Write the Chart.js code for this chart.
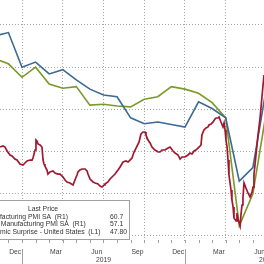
<!DOCTYPE html>
<html>
<head>
<meta charset="utf-8">
<script src="https://cdn.jsdelivr.net/npm/chart.js@4.4.1/dist/chart.umd.min.js"></script>
<style>
  html, body { margin: 0; padding: 0; background: #fff; overflow: hidden; }
  #wrap { width: 264px; height: 264px; }
</style>
</head>
<body>
<div id="wrap"><canvas id="chart" width="264" height="264"></canvas></div>
<script>
// monthly PMI readings (plotted at the end of each month)
const pmiMonths = ['2018-10','2018-11','2018-12','2019-01','2019-02','2019-03','2019-04','2019-05','2019-06','2019-07',
                   '2019-08','2019-09','2019-10','2019-11','2019-12','2020-01','2020-02','2020-03','2020-04','2020-05','2020-06'];
const ismPmi    = [58.7, 59.1, 55.0, 55.6, 54.2, 54.7, 53.5, 52.4, 51.7, 51.5, 49.0, 48.3, 48.5, 48.2, 47.9, 50.9, 50.1, 49.0, 41.5, 43.1, 52.6];
const markitPmi = [56.0, 55.4, 53.8, 55.0, 53.0, 52.5, 52.7, 50.5, 50.6, 50.4, 50.3, 51.2, 51.5, 52.7, 52.4, 51.9, 50.8, 49.0, 36.2, 40.0, 49.8];

// economic surprise index, time in months since Jan 2019
const surpriseT = [-1.62,-1.40,-1.25,-1.10,-0.88,-0.74,-0.52,-0.37,-0.15,0.07,
  0.22,0.37,0.59,0.74,0.81,0.96,1.03,1.10,1.18,1.33,
  1.47,1.55,1.62,1.69,1.84,1.91,2.06,2.28,2.43,2.65,
  2.80,3.02,3.17,3.31,3.53,3.76,3.90,4.05,4.12,4.27,
  4.42,4.64,4.79,4.86,5.01,5.23,5.38,5.60,5.74,5.89,
  6.04,6.11,6.33,6.48,6.63,6.85,7.07,7.22,7.44,7.66,
  7.81,7.95,8.10,8.25,8.47,8.62,8.76,8.91,9.06,9.13,
  9.28,9.43,9.57,9.79,10.02,10.16,10.31,10.53,10.75,10.90,
  11.12,11.27,11.49,11.64,11.78,12.00,12.22,12.37,12.52,12.67,
  12.81,13.03,13.18,13.25,13.40,13.55,13.70,13.77,13.92,14.07,
  14.21,14.29,14.43,14.51,14.65,14.80,14.88,14.95,15.02,15.10,
  15.17,15.24,15.39,15.46,15.54,15.61,15.76,15.83,15.91,15.98,
  16.06,16.13,16.20,16.27,16.35,16.49,16.64,16.79,16.94,17.01,
  17.08,17.23,17.38,17.53,17.67,17.75,17.82,17.97];
const surpriseVal = [-44.6,-43.4,-44.6,-49.3,-54.0,-55.2,-58.8,-60.0,-64.7,-65.9,
  -63.5,-61.1,-60.0,-60.0,-57.6,-48.1,-36.3,-37.5,-41.0,-42.2,
  -44.6,-60.0,-64.7,-67.1,-71.8,-76.6,-74.2,-73.0,-75.4,-76.6,
  -76.6,-80.1,-83.7,-86.0,-87.2,-89.6,-83.7,-77.7,-74.2,-71.8,
  -70.6,-70.6,-73.0,-76.6,-82.5,-86.0,-87.2,-88.4,-90.8,-92.0,
  -89.6,-88.4,-86.0,-82.5,-80.1,-76.6,-71.8,-68.3,-62.3,-61.1,
  -62.3,-60.0,-57.6,-50.5,-43.4,-38.6,-29.1,-26.8,-26.8,-30.3,
  -36.3,-39.8,-44.6,-48.1,-50.5,-50.5,-48.1,-48.1,-45.7,-44.6,
  -49.3,-51.7,-54.0,-58.8,-56.4,-56.4,-54.0,-51.7,-52.8,-49.3,
  -48.1,-44.6,-42.2,-30.3,-24.4,-22.0,-20.8,-18.5,-17.3,-14.9,
  -11.4,-10.2,-10.2,-9.0,-14.9,-20.8,-16.1,-24.4,-36.3,-44.6,
  -60.0,-77.7,-95.5,-107.3,-115.6,-128.7,-132.2,-122.8,-131.0,-133.4,
  -138.1,-123.9,-113.3,-105.0,-87.2,-93.1,-99.0,-103.8,-97.9,-92.0,
  -77.7,-54.0,-30.3,-10.2,14.7,28.9,40.7,70.4];

// axis labels
const monthLabels = ['Dec', 'Mar', 'Jun', 'Sep', 'Dec', 'Mar', 'Jun'];
const monthLabelPos = [-0.5, 2.5, 5.5, 8.5, 11.5, 14.5, 17.5];
const yearLabels = ['2019', '2020'];
const yearLabelPos = [6, 18];
const yearBreaks = [0, 12];

const legendNames = ['ISM Manufacturing PMI SA  (R1)', 'Markit US Manufacturing PMI SA  (R1)', 'Citi Economic Surprise - United States  (L1)'];
const legendValues = ['60.7', '57.1', '47.80'];

function monthPos(s) {
    const [y, m] = s.split('-').map(Number);
    return (y - 2019) * 12 + m; // end of that month
}

const zeroSize = s => { if (s.isHorizontal()) s.height = 0; else s.width = 0; };

// axis labels and the legend box
const decor = {
    id: 'decor',
    afterDraw(chart) {
        const { ctx, chartArea } = chart;
        const x = chart.scales.x;
        const base = chartArea.bottom;
        ctx.save();
        ctx.strokeStyle = '#a0a0a0';
        ctx.lineWidth = 1;
        for (let m = -1; m <= 17; m++) {
            const px = Math.round(x.getPixelForValue(m)) + 0.5;
            ctx.beginPath(); ctx.moveTo(px, base - 3); ctx.lineTo(px, base); ctx.stroke();
        }
        yearBreaks.forEach(m => {
            const px = Math.round(x.getPixelForValue(m)) + 0.5;
            ctx.beginPath(); ctx.moveTo(px, base + 6); ctx.lineTo(px, 264); ctx.stroke();
        });

        ctx.fillStyle = '#444';
        ctx.font = '6.8px "Liberation Sans", Arial, sans-serif';
        ctx.textAlign = 'center';
        ctx.textBaseline = 'middle';
        monthLabels.forEach((t, i) => ctx.fillText(t, x.getPixelForValue(monthLabelPos[i]), 252));
        yearLabels.forEach((t, i) => ctx.fillText(t, x.getPixelForValue(yearLabelPos[i]), 260));

        // legend box
        ctx.fillStyle = '#fff';
        ctx.fillRect(-45, 200.5, 174.5, 39);
        ctx.strokeStyle = '#a0a0a0';
        ctx.strokeRect(-45.5, 200.5, 175, 39);
        ctx.fillStyle = '#333';
        ctx.fillText('Last Price', 43, 209);
        ctx.textAlign = 'left';
        legendNames.forEach((t, i) => {
            ctx.fillText(t, -31, 217 + i * 7.5);
            ctx.fillText(legendValues[i], 110, 217 + i * 7.5);
        });
        ctx.restore();
    }
};

new Chart(document.getElementById('chart'), {
    type: 'line',
    data: {
        datasets: [{
            label: legendNames[2],
            data: surpriseT.map((t, i) => ({ x: t, y: surpriseVal[i] })),
            yAxisID: 'yL',
            borderColor: '#a3172e',
            borderWidth: 1.7
        }, {
            label: legendNames[0],
            data: pmiMonths.map((m, i) => ({ x: monthPos(m), y: ismPmi[i] })),
            yAxisID: 'yR',
            borderColor: '#3b6a92',
            borderWidth: 1.6
        }, {
            label: legendNames[1],
            data: pmiMonths.map((m, i) => ({ x: monthPos(m), y: markitPmi[i] })),
            yAxisID: 'yR',
            borderColor: '#7a9a2a',
            borderWidth: 1.6
        }]
    },
    options: {
        responsive: false,
        animation: false,
        devicePixelRatio: 1,
        layout: { padding: { left: 0, right: 0, top: 0, bottom: 21 } },
        elements: { point: { radius: 0 }, line: { tension: 0 } },
        plugins: { legend: { display: false }, tooltip: { enabled: false } },
        scales: {
            x: {
                type: 'linear', position: 'bottom', min: -1.62, max: 17.82,
                ticks: { display: false, stepSize: 3, includeBounds: false },
                grid: { color: '#a6a6a6', lineWidth: 1, drawTicks: false },
                border: { display: false, dash: [1, 2] },
                afterFit: zeroSize
            },
            yR: {
                position: 'right', min: 34.17, max: 62.96,
                ticks: { display: false, stepSize: 5, includeBounds: false },
                grid: { color: '#a6a6a6', lineWidth: 1, drawTicks: false },
                border: { display: false, dash: [1, 2] },
                afterFit: zeroSize
            },
            yL: {
                position: 'left', min: -158.3, max: 129.6,
                display: false
            }
        }
    },
    plugins: [decor]
});
</script>
</body>
</html>
